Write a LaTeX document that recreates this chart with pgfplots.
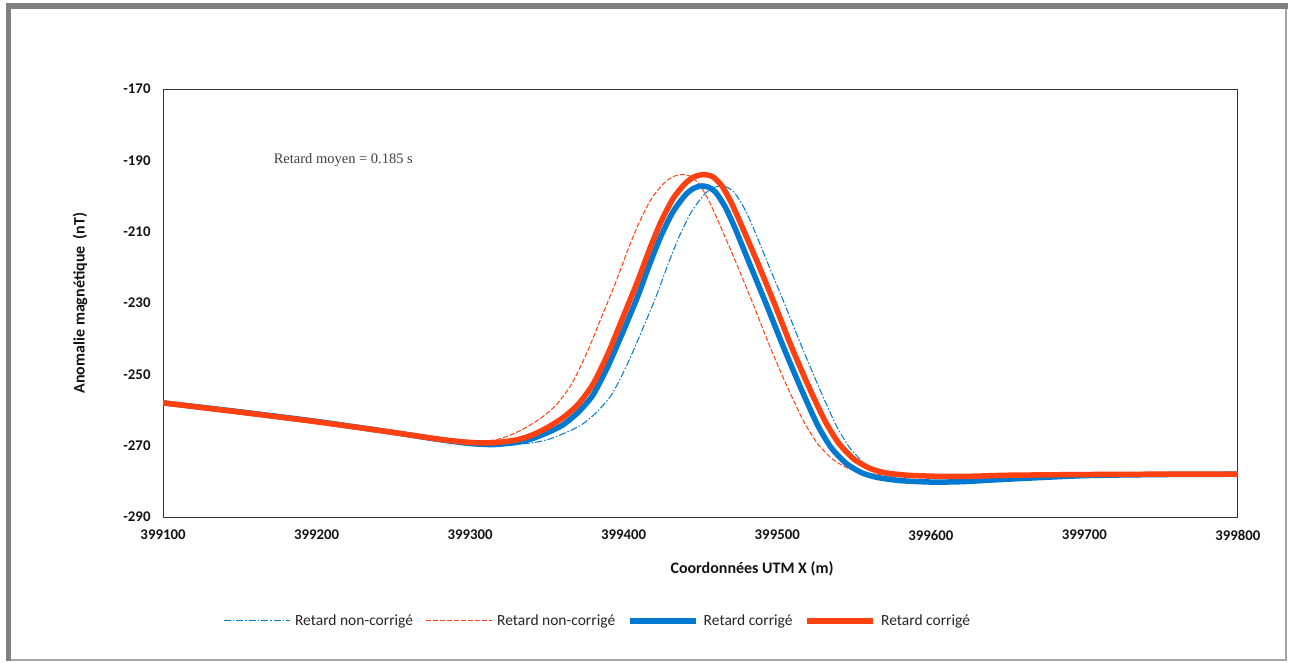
\documentclass[border=0pt]{standalone}
\usepackage{fontspec}
\setmainfont{Carlito}
\newfontfamily\serifx{Liberation Serif}
\usepackage{pgfplots}
\pgfplotsset{compat=1.18}
\definecolor{cblue}{RGB}{0,122,208}
\definecolor{cred}{RGB}{255,64,16}
\definecolor{framegray}{RGB}{128,128,128}

\pgfplotstableread{
x y
399100 -258.0
399150 -260.5
399200 -263.2
399250 -266.3
399280 -268.3
399300 -269.2
399327 -269.7
399342 -269.1
399352 -268.1
399362 -266.4
399372 -264.3
399382 -260.8
399392 -255.8
399402 -247.5
399412 -237.6
399421 -228.3
399429 -219.0
399436 -211.5
399444 -204.5
399452 -199.8
399457 -198.0
399462 -197.2
399467 -197.5
399472 -199.0
399478 -203.0
399484 -208.5
399494 -219.0
399505 -230.5
399516 -242.3
399527 -253.5
399538 -264.0
399547 -270.5
399557 -275.0
399567 -277.6
399577 -278.9
399592 -279.8
399612 -280.2
399632 -280.0
399650 -279.4
399700 -278.4
399750 -278.1
399800 -278.0
}\bluethin

\pgfplotstableread{
x y
399100 -258.0
399150 -260.6
399200 -263.3
399250 -266.3
399280 -268.2
399300 -268.8
399316 -268.4
399326 -267.1
399336 -265.0
399346 -262.3
399356 -258.6
399366 -252.8
399376 -244.0
399386 -233.5
399395 -224.0
399403 -214.8
399410 -207.5
399418 -200.8
399426 -196.5
399432 -194.6
399438 -194.0
399444 -194.6
399450 -197.2
399456 -201.8
399463 -208.5
399473 -218.5
399484 -230.0
399495 -242.0
399506 -253.0
399517 -263.0
399526 -269.3
399536 -273.8
399546 -276.3
399556 -277.6
399571 -278.3
399591 -278.6
399611 -278.6
399636 -278.3
399686 -278.1
399730 -278.0
}\redthin

\pgfplotstableread{
x y
399100 -258.0
399150 -260.5
399200 -263.2
399250 -266.3
399280 -268.3
399300 -269.4
399315 -269.7
399330 -269.1
399340 -268.1
399350 -266.4
399360 -264.3
399370 -260.8
399380 -255.8
399390 -247.5
399400 -237.6
399409 -228.3
399417 -219.0
399424 -211.5
399432 -204.5
399440 -199.8
399445 -198.0
399450 -197.2
399455 -197.5
399460 -199.0
399466 -203.0
399472 -208.5
399482 -219.0
399493 -230.5
399504 -242.3
399515 -253.5
399526 -264.0
399535 -270.5
399545 -275.0
399555 -277.6
399565 -278.9
399580 -279.8
399600 -280.2
399620 -280.1
399650 -279.4
399700 -278.4
399750 -278.1
399800 -278.0
}\bluethick

\pgfplotstableread{
x y
399100 -258.0
399150 -260.6
399200 -263.3
399250 -266.3
399280 -268.2
399300 -269.1
399315 -269.2
399330 -268.4
399340 -267.1
399350 -265.0
399360 -262.3
399370 -258.6
399380 -252.8
399390 -244.0
399400 -233.5
399409 -224.0
399417 -214.8
399424 -207.5
399432 -200.8
399440 -196.5
399446 -194.6
399452 -194.0
399458 -194.6
399464 -197.2
399470 -201.8
399477 -208.5
399487 -218.5
399498 -230.0
399509 -242.0
399520 -253.0
399531 -263.0
399540 -269.3
399550 -273.8
399560 -276.3
399570 -277.6
399585 -278.3
399605 -278.6
399625 -278.6
399650 -278.3
399700 -278.1
399750 -278.0
399800 -278.0
}\redthick

\begin{document}
\begin{tikzpicture}[x=1pt,y=1pt]
\useasboundingbox (0,0) rectangle (1291,663);
\fill[white] (0,0) rectangle (1291,663);
\fill[black!35] (11,2) rectangle (1287,3.6);
\fill[black!35] (1285.4,2) rectangle (1287,657);
\fill[framegray] (5.5,653.5) rectangle (1288,659.5);
\fill[framegray] (5.5,2) rectangle (11,659.5);

\begin{axis}[
  at={(163pt,146pt)}, anchor=south west,
  scale only axis, width=1075pt, height=428pt,
  xmin=399100, xmax=399800, ymin=-290, ymax=-170,
  xtick={399100,399200,399300,399400,399500,399600,399700,399800},
  ytick={-290,-270,-250,-230,-210,-190,-170},
  scaled x ticks=false, scaled y ticks=false,
  major tick length=0pt,
  /pgf/number format/.cd, fixed, precision=0, 1000 sep={}, assume math mode=true,
  /pgfplots/.cd,
  tick label style={font=\fontsize{14.8}{17}\selectfont\bfseries, text=black!92, inner sep=0pt},
  xticklabel style={anchor=north, yshift=-13pt},
  yticklabel style={anchor=east, xshift=-12.3pt},
  axis line style={black!80, line width=0.9pt},
  xlabel={Coordonnées UTM X (m)},
  ylabel={Anomalie magnétique\ \ (nT)},
  label style={font=\fontsize{16}{19}\selectfont\bfseries, text=black!92},
  xlabel style={at={(axis description cs:0.548,-0.1215)}, anchor=center},
  ylabel style={at={(axis description cs:-0.0772,0.5)}, anchor=center},
  legend columns=4,
  legend style={at={(axis description cs:0.4033,-0.243)}, anchor=center,
    draw=none, fill=none, font=\fontsize{15.5}{18}\selectfont, text=black!85,
    /tikz/every odd column/.append style={column sep=5pt},
    /tikz/every even column/.append style={column sep=12pt},
    nodes={inner sep=0pt}},
  legend image code/.code={\draw[#1] (0pt,0pt) -- (66pt,0pt);},
  every axis plot/.append style={line join=round, smooth, tension=0.4},
]
\addplot[cblue, line width=1pt, dash pattern=on 7pt off 2pt on 1.5pt off 2pt] table[x=x,y=y] {\bluethin};
\addlegendentry{Retard non-corrigé}
\addplot[cred, line width=1pt, dash pattern=on 5pt off 2pt] table[x=x,y=y] {\redthin};
\addlegendentry{Retard non-corrigé}
\addplot[cblue, line width=5.5pt] table[x=x,y=y] {\bluethick};
\addlegendentry{Retard corrigé}
\addplot[cred, line width=5.5pt] table[x=x,y=y] {\redthick};
\addlegendentry{Retard corrigé}
\node[anchor=base west, inner sep=0pt, font=\serifx\fontsize{14.5}{17}\selectfont, text=black!75] at (axis cs:399172,-191.0) {Retard moyen = 0.185 s};
\end{axis}
\end{tikzpicture}
\end{document}
